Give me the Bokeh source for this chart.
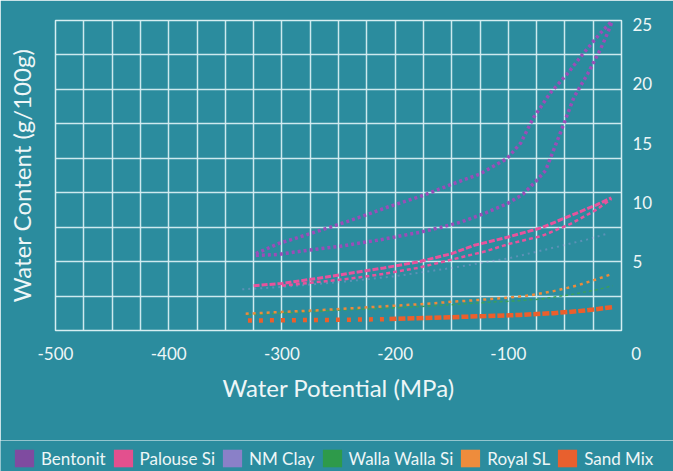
from bokeh.plotting import figure
from bokeh.layouts import column
from bokeh.models import Range1d, LinearAxis, FixedTicker, Legend, LegendItem
from bokeh.embed import file_html
from bokeh.resources import INLINE

# ---------------- data ----------------
x_tick_values = [-500, -400, -300, -200, -100, 0]
y_tick_values = [5, 10, 15, 20, 25]

bent_upper_x = [-323, -303, -286, -260, -233, -207, -175, -151, -125, -101, -89, -78, -63, -48, -34, -19, -8]
bent_upper_y = [5.7, 6.55, 7.05, 7.84, 8.7, 9.6, 10.6, 11.5, 12.4, 13.7, 15.0, 17.1, 19.2, 20.8, 22.5, 24.2, 25.3]
bent_lower_x = [-323, -304, -280, -248, -213, -178, -160, -142, -122, -101, -87, -75, -67, -60, -51, -42, -30, -19, -12, -8]
bent_lower_y = [5.55, 5.63, 5.95, 6.33, 6.87, 7.5, 7.9, 8.35, 9.05, 9.9, 10.7, 11.85, 12.7, 14.4, 16.6, 18.85, 20.8, 22.8, 24.3, 25.3]

pal_upper_x = [-325, -300, -270, -240, -210, -180, -150, -130, -100, -70, -45, -22, -9]
pal_upper_y = [3.0, 3.2, 3.6, 4.05, 4.5, 5.0, 5.7, 6.4, 7.1, 7.9, 8.9, 9.8, 10.4]
pal_lower_x = [-300, -270, -240, -210, -180, -150, -120, -100, -70, -45, -22, -9]
pal_lower_y = [3.0, 3.3, 3.6, 4.0, 4.5, 5.2, 5.9, 6.5, 7.2, 8.2, 9.4, 10.3]

nm_x = [-335, -300, -250, -200, -150, -100, -60, -30, -12]
nm_y = [2.7, 2.9, 3.3, 3.8, 4.5, 5.3, 6.2, 6.9, 7.4]

walla_x = [-330, -300, -250, -200, -160, -120, -90, -70, -42, -20, -8]
walla_y = [0.55, 0.7, 0.95, 1.15, 1.35, 1.6, 1.75, 1.9, 2.3, 2.7, 3.0]

royal_x = [-332, -300, -266, -222, -178, -150, -120, -100, -80, -60, -40, -25, -8]
royal_y = [0.65, 0.8, 0.95, 1.2, 1.45, 1.65, 1.85, 2.0, 2.2, 2.55, 3.0, 3.45, 4.0]

sand_dots_x = [-330, -300, -260, -230, -205]
sand_dots_y = [0.08, 0.1, 0.13, 0.16, 0.2]
sand_line_x = [-205, -180, -150, -120, -90, -60, -40, -25, -8]
sand_line_y = [0.2, 0.28, 0.36, 0.45, 0.55, 0.7, 0.85, 1.0, 1.2]

legend_names = ["Bentonit", "Palouse Si", "NM Clay", "Walla Walla Si", "Royal SL", "Sand Mix"]
legend_colors = ["#7f4ba0", "#e3508e", "#8a80c8", "#2e9a4a", "#ee8c3c", "#e8602e"]

# ---------------- style ----------------
BG = "#2b8c9e"
TXT = "#eef6f7"
GRID = "#d6eef2"
FONT = "Lato"

Y0, Y1 = -0.76, 25.3

p = figure(frame_width=566, frame_height=310,
           x_range=Range1d(-500, 0), y_range=Range1d(Y0, Y1),
           x_axis_location="below", y_axis_location="right",
           output_backend="svg", toolbar_location=None,
           min_border_left=55, min_border_right=52,
           min_border_top=20, min_border_bottom=110,
           background_fill_color=BG, border_fill_color=BG)

p.outline_line_color = GRID
p.outline_line_width = 1.5

# grid (21 vertical, 10 horizontal lines incl. the box)
p.xgrid.ticker = FixedTicker(ticks=[-500 + 25 * k for k in range(1, 20)])
p.ygrid.ticker = FixedTicker(ticks=[Y0 + k * (Y1 - Y0) / 9 for k in range(1, 9)])
for g in (p.xgrid, p.ygrid):
    g.grid_line_color = GRID
    g.grid_line_width = 1.5
    g.grid_line_alpha = 0.95

# x axis (the corner "0" sits a little right of the box edge)
xa = p.xaxis[0]
xa.ticker = FixedTicker(ticks=x_tick_values)
overrides = {v: str(v) for v in x_tick_values}
overrides[0] = "\u2007\u2007\u20070"
xa.major_label_overrides = overrides
xa.axis_line_color = None
xa.major_tick_line_color = None
xa.minor_tick_line_color = None
xa.major_tick_out = 0
xa.major_label_standoff = 12
xa.major_label_text_color = TXT
xa.major_label_text_font = FONT
xa.major_label_text_font_size = "17px"
xa.axis_label = "Water Potential (MPa)"
xa.axis_label_text_color = TXT
xa.axis_label_text_font = FONT
xa.axis_label_text_font_size = "24px"
xa.axis_label_text_font_style = "normal"
xa.axis_label_standoff = 6

# right y axis (numbers)
ya = p.yaxis[0]
ya.ticker = FixedTicker(ticks=y_tick_values)
ya.axis_line_color = None
ya.major_tick_line_color = None
ya.minor_tick_line_color = None
ya.major_tick_out = 0
ya.major_label_standoff = 11
ya.major_label_text_color = TXT
ya.major_label_text_font = FONT
ya.major_label_text_font_size = "17px"

# left axis carrying only the title
la = LinearAxis(ticker=FixedTicker(ticks=[]), axis_label="Water Content (g/100g)")
la.axis_line_color = None
la.major_tick_line_color = None
la.minor_tick_line_color = None
la.major_tick_out = 0
la.major_label_standoff = 0
la.axis_label_text_color = TXT
la.axis_label_text_font = FONT
la.axis_label_text_font_size = "24px"
la.axis_label_text_font_style = "normal"
la.axis_label_standoff = 20
p.add_layout(la, "left")

# ---------------- curves ----------------
p.line(nm_x, nm_y, line_color="#a898dc", line_width=2, line_dash="2 4", line_alpha=0.4)
p.line(walla_x, walla_y, line_color="#3aa05a", line_width=1.5, line_dash="3 3")
p.line(royal_x, royal_y, line_color="#ee8a3a", line_width=2.5, line_dash="3 4")
p.line(sand_dots_x, sand_dots_y, line_color="#ec5f2c", line_width=4.5, line_dash="4 7")
p.line(sand_line_x, sand_line_y, line_color="#ec5f2c", line_width=4.5, line_dash="7 2")
p.line(pal_lower_x, pal_lower_y, line_color="#e8539c", line_width=2.5, line_dash="4 3")
p.line(pal_upper_x, pal_upper_y, line_color="#e8539c", line_width=3, line_dash="6 2")
p.line(bent_lower_x, bent_lower_y, line_color="#9b4db8", line_width=3.5, line_dash="3 3")
p.line(bent_upper_x, bent_upper_y, line_color="#9b4db8", line_width=3.5, line_dash="3 3")

# ---------------- legend strip (square swatches) ----------------
lg = figure(width=673, height=31, x_range=Range1d(0, 1), y_range=Range1d(0, 1),
            x_axis_location=None, y_axis_location=None,
            output_backend="svg", toolbar_location=None,
            min_border=0, min_border_left=0, min_border_right=0,
            min_border_top=0, min_border_bottom=0,
            background_fill_color=BG, border_fill_color=BG)
lg.outline_line_color = None
try:
    lg.frame_align = False
except Exception:
    pass
for g in lg.grid:
    g.visible = False

items = []
for name, col in zip(legend_names, legend_colors):
    # legend proxy: a zero-size, hidden swatch renderer
    r = lg.quad(left=[0], right=[0], top=[0], bottom=[0], fill_color=col, line_color=None)
    r.visible = False
    items.append(LegendItem(label=name, renderers=[r]))

legend = Legend(items=items, orientation="horizontal", location=(12, 2),
                glyph_width=24, glyph_height=22, label_standoff=5, spacing=5,
                padding=0, margin=0, background_fill_alpha=0, border_line_color=None,
                inactive_fill_alpha=0,
                label_text_color=TXT, label_text_font=FONT, label_text_font_size="17px")
lg.add_layout(legend)

layout = column(p, lg, spacing=0)

open("out.html", "w").write(file_html(layout, INLINE))
